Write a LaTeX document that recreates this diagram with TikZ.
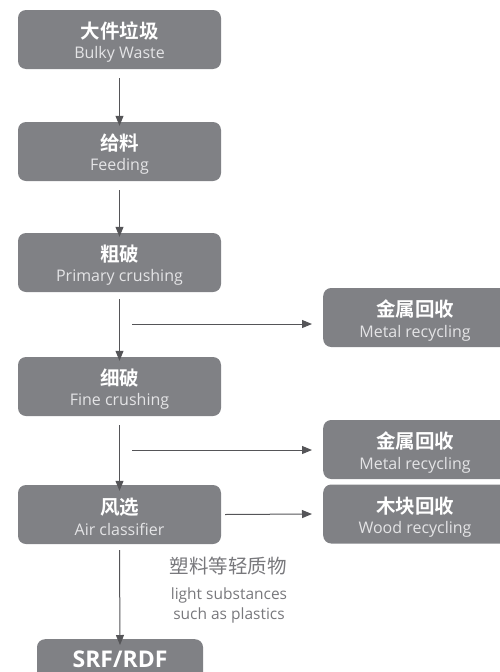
\documentclass[tikz,border=0pt]{standalone}
\usepackage{fontspec}
\setmainfont{Open Sans}
\newfontfamily\zhb{Noto Sans CJK SC Bold}
\newfontfamily\zhr{Noto Sans CJK SC}
\newfontfamily\enl{Open Sans}
\usetikzlibrary{arrows.meta}
\definecolor{boxgray}{RGB}{128,129,133}
\definecolor{entext}{RGB}{228,228,230}
\definecolor{arrowgray}{RGB}{85,85,88}
\definecolor{notegray}{RGB}{120,120,124}
\tikzset{
  procbox/.style={fill=boxgray, rounded corners=8pt, minimum width=203pt, minimum height=59pt, inner sep=0pt},
  sidebox/.style={fill=boxgray, rounded corners=8pt, minimum width=200pt, minimum height=59pt, inner sep=0pt, anchor=west},
  boxtext/.style={inner sep=0pt, align=center, text=white},
  flow/.style={draw=arrowgray, line width=1pt, -{Triangle[length=10pt,width=8pt]}},
}
\newcommand{\twoline}[2]{{\zhb\fontsize{19.5pt}{22pt}\selectfont #1}\\[5.5pt]{\enl\fontsize{16pt}{18pt}\selectfont\color{entext} #2}}
\begin{document}
\begin{tikzpicture}[x=1pt,y=-1pt]
\useasboundingbox (0,0) rectangle (500,672);
\clip (0,0) rectangle (500,672);
\node[procbox] (b1) at (119.5,39.5) {};
\node[procbox] (b2) at (119.5,151.5) {};
\node[procbox] (b3) at (119.5,262.5) {};
\node[procbox] (b4) at (119.5,386.5) {};
\node[procbox] (b5) at (119.5,514.5) {};
\node[procbox, minimum width=166pt, minimum height=60pt, anchor=north] (b6) at (120,639) {};
\node[sidebox] (m1) at (323,317.5) {};
\node[sidebox] (m2) at (323,449.5) {};
\node[sidebox] (w1) at (323,514) {};
\node[boxtext] (t1) at ([yshift=-2.5pt]b1.center) {\twoline{大件垃圾}{Bulky Waste}};
\node[boxtext] (t2) at ([yshift=-2.5pt]b2.center) {\twoline{给料}{Feeding}};
\node[boxtext] (t3) at ([yshift=-2.5pt]b3.center) {\twoline{粗破}{Primary crushing}};
\node[boxtext] (t4) at ([yshift=-2.5pt]b4.center) {\twoline{细破}{Fine crushing}};
\node[boxtext] (t5) at ([yshift=-2.5pt]b5.center) {\twoline{风选}{Air classifier}};
\node[boxtext, font=\fontsize{23pt}{25pt}\selectfont\bfseries] (t6) at (120,659) {SRF/RDF};
\node[boxtext] (tm1) at (415,320.5) {\twoline{金属回收}{Metal recycling}};
\node[boxtext] (tm2) at (415,452.5) {\twoline{金属回收}{Metal recycling}};
\node[boxtext] (tw1) at (415,517) {\twoline{木块回收}{Wood recycling}};
\coordinate (s1) at (132,324);
\coordinate (s2) at (132,450);
\draw[flow] ([yshift=-9pt]b1.south) -- ([yshift=-4pt]b2.north);
\draw[flow] ([yshift=-9pt]b2.south) -- ([yshift=-4pt]b3.north);
\draw[flow] ([yshift=-7pt]b3.south) -- ([yshift=-4pt]b4.north);
\draw[flow] ([yshift=-9pt]b4.south) -- ([yshift=-6pt]b5.north);
\draw[flow] ([yshift=-6pt]b5.south) -- ([yshift=-6pt]b6.north);
\draw[flow] (s1) -- ([xshift=-11pt]m1.west |- s1);
\draw[flow] (s2) -- ([xshift=-11pt]m2.west |- s2);
\draw[flow] ([xshift=4pt]b5.east) -- ([xshift=-11pt]w1.west);
\node[text=notegray, font=\zhr\fontsize{19.5pt}{22pt}\selectfont, anchor=west] (n1) at (166,566) {塑料等轻质物};
\node[text=notegray, font=\enl\fontsize{15.5pt}{20pt}\selectfont, align=center] (n2) at (229,605) {light substances\\such as plastics};
\end{tikzpicture}
\end{document}
